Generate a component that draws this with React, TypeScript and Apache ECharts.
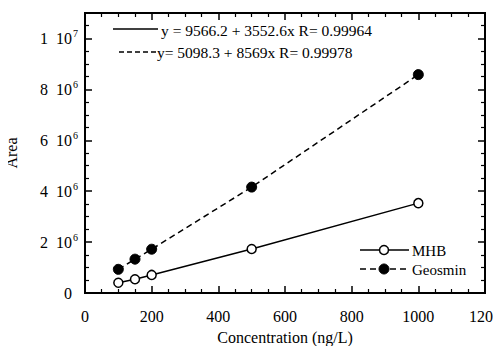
import React, { useEffect, useRef } from "react";
import * as echarts from "echarts";

const concentrations = [100, 150, 200, 500, 1000];
const mhbArea = [405000, 540000, 710000, 1730000, 3530000];
const geosminArea = [930000, 1330000, 1720000, 4160000, 8580000];
const seriesNames = ["MHB", "Geosmin"];
const equationTexts = [
  "y = 9566.2 + 3552.6x R= 0.99964",
  "y= 5098.3 + 8569x R= 0.99978",
];
const xAxisTitle = "Concentration (ng/L)";
const yAxisTitle = "Area";

const FONT = "'Liberation Serif', 'Times New Roman', serif";

export default function App() {
  const ref = useRef<HTMLDivElement>(null);
  useEffect(() => {
    if (!ref.current) return;
    const chart = echarts.init(ref.current, null, { renderer: "svg" });
    const C = "#000000";
    const G = { left: 85, right: 16, top: 13, bottom: 61 };
    const W = 501, H = 354;
    const axisLine = () => ({ show: true, onZero: false, lineStyle: { color: C, width: 2 } });
    const axisTick = () => ({ show: true, inside: true, length: 7, lineStyle: { color: C, width: 1.5 } });
    const minorTick = () => ({ show: true, splitNumber: 4, length: 4, lineStyle: { color: C, width: 1.2 } });
    const yLabel = (v: number) => {
      if (v === 0) return "{z|0}";
      if (v >= 1e7) return `{b|${v / 1e7}  10}{s|7}`;
      return `{b|${v / 1e6}  10}{s|6}`;
    };
    const rich = {
      b: { fontFamily: FONT, fontSize: 16, color: "#000" },
      s: { fontFamily: FONT, fontSize: 10, color: "#000", padding: [0, 0, 9, 1] },
      z: { fontFamily: FONT, fontSize: 16, color: "#000", padding: [0, 6, 0, 0] },
    };
    const legendText = (x: number, y: number, t: string) => ({
      type: "text", x, y, style: { text: t, fontFamily: FONT, fontSize: 15, fill: "#000", verticalAlign: "middle" },
    });
    chart.setOption({
      animation: false,
      grid: { ...G, outerBoundsMode: "none" },
      xAxis: [
        {
          type: "value", min: 0, max: 1200, interval: 200,
          axisLine: axisLine(), axisTick: axisTick(), minorTick: minorTick(), splitLine: { show: false },
          axisLabel: { fontFamily: FONT, fontSize: 16, color: "#000", margin: 15, formatter: (v: number) => String(v) },
          name: xAxisTitle, nameLocation: "middle", nameGap: 36,
          nameTextStyle: { fontFamily: FONT, fontSize: 16, color: "#000" },
        },
        {
          type: "value", min: 0, max: 1200, interval: 200, position: "top",
          axisLine: axisLine(), axisTick: axisTick(), minorTick: minorTick(), splitLine: { show: false },
          axisLabel: { show: false },
        },
      ],
      yAxis: [
        {
          type: "value", min: 0, max: 11000000, interval: 2000000,
          axisLine: axisLine(), axisTick: axisTick(), minorTick: minorTick(), splitLine: { show: false },
          axisLabel: { formatter: yLabel, rich, margin: 7, showMaxLabel: false },
          name: yAxisTitle, nameLocation: "middle", nameGap: 66, nameRotate: 90,
          nameTextStyle: { fontFamily: FONT, fontSize: 16, color: "#000" },
        },
        {
          type: "value", min: 0, max: 11000000, interval: 2000000, position: "right",
          axisLine: axisLine(), axisTick: axisTick(), minorTick: minorTick(), splitLine: { show: false },
          axisLabel: { show: false },
        },
      ],
      series: [
        {
          name: seriesNames[0], type: "line", xAxisIndex: 0, yAxisIndex: 0,
          data: concentrations.map((c, i) => [c, mhbArea[i]]),
          symbol: "circle", symbolSize: 9,
          itemStyle: { color: "#fff", borderColor: "#000", borderWidth: 1.5 },
          lineStyle: { color: "#000", width: 1.5, type: "solid" },
        },
        {
          name: seriesNames[1], type: "line", xAxisIndex: 0, yAxisIndex: 0,
          data: concentrations.map((c, i) => [c, geosminArea[i]]),
          symbol: "circle", symbolSize: 10,
          itemStyle: { color: "#000", borderColor: "#000", borderWidth: 1 },
          lineStyle: { color: "#000", width: 1.5, type: [6, 4] },
        },
      ],
      graphic: [
        {
          type: "rect", z: 100,
          shape: { x: G.left, y: G.top, width: W - G.left - G.right, height: H - G.top - G.bottom },
          style: { fill: "none", stroke: C, lineWidth: 2 },
          silent: true,
        },
        { type: "line", shape: { x1: 113, y1: 29, x2: 158, y2: 29 }, style: { stroke: "#000", lineWidth: 1.5 } },
        { type: "text", x: 161, y: 30, style: { text: equationTexts[0], fontFamily: FONT, fontSize: 15.5, fill: "#000", verticalAlign: "middle" } },
        { type: "line", shape: { x1: 119, y1: 52, x2: 156, y2: 52 }, style: { stroke: "#000", lineWidth: 1.5, lineDash: [5, 3] } },
        { type: "text", x: 157, y: 52, style: { text: equationTexts[1], fontFamily: FONT, fontSize: 15.5, fill: "#000", verticalAlign: "middle" } },
        { type: "line", shape: { x1: 360, y1: 250, x2: 409, y2: 250 }, style: { stroke: "#000", lineWidth: 1.5 } },
        { type: "circle", shape: { cx: 384, cy: 250, r: 4.5 }, style: { fill: "#fff", stroke: "#000", lineWidth: 1.5 } },
        legendText(412, 251, seriesNames[0]),
        { type: "line", shape: { x1: 360, y1: 269, x2: 409, y2: 269 }, style: { stroke: "#000", lineWidth: 1.5, lineDash: [6, 4] } },
        { type: "circle", shape: { cx: 384, cy: 269, r: 5 }, style: { fill: "#000", stroke: "#000", lineWidth: 1 } },
        legendText(412, 270, seriesNames[1]),
      ],
    });
    return () => chart.dispose();
  }, []);
  return <div ref={ref} style={{ width: 501, height: 354, margin: -8, background: "#fff" }} />;
}
